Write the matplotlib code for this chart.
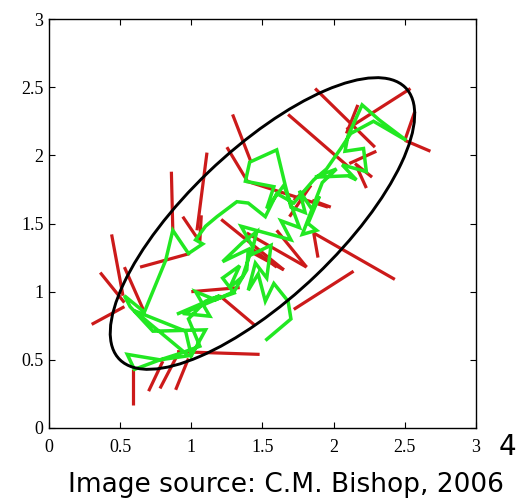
import matplotlib
matplotlib.use('Agg')
import matplotlib.pyplot as plt
from matplotlib.patches import Ellipse

# accepted steps (green path)
green_x = [1.53, 1.70, 1.68, 1.58, 1.52, 1.47, 1.40, 1.45, 1.53, 1.56, 1.42, 1.46, 1.36, 1.22, 1.40, 1.39,
           1.30, 1.17, 1.03, 1.13, 0.94, 1.19, 1.30, 1.22, 1.34, 1.27, 1.36,
           1.43, 1.35, 1.70, 1.63, 1.76, 1.65, 1.53, 1.58, 1.38, 1.41, 1.60, 1.66, 1.70, 1.80, 1.76, 1.85,
           1.90, 1.82, 1.88, 1.78,
           1.92, 2.02, 1.87, 2.10, 2.16, 2.06, 2.23, 2.21, 2.08, 2.10, 2.20, 2.32, 2.51, 2.28, 2.12, 2.05,
           1.95, 1.86,
           1.72, 1.60, 1.52, 1.40, 1.32, 1.18, 1.10, 1.03, 1.08, 0.98, 0.87, 0.82, 0.67, 0.53, 0.57,
           0.73, 1.10, 1.00, 0.96, 0.60, 0.98, 0.78, 0.55, 0.60, 0.78, 0.93, 1.06, 0.98, 1.10, 1.20, 0.91]
green_y = [0.65, 0.80, 0.93, 1.06, 0.93, 1.13, 1.01, 1.21, 1.10, 1.34, 1.27, 1.44, 1.36, 1.22, 1.31, 1.16,
           1.00, 0.94, 1.00, 0.82, 0.84, 0.95, 0.99, 1.10, 1.19, 1.03, 1.11,
           1.33, 1.48, 1.38, 1.52, 1.47, 1.78, 1.61, 1.77, 1.81, 1.95, 2.04, 1.78, 1.62, 1.58, 1.74, 1.60,
           1.70, 1.50, 1.45, 1.42,
           1.80, 1.90, 1.84, 1.85, 1.82, 1.93, 1.88, 2.05, 2.03, 2.14, 2.37, 2.26, 2.11, 2.25, 2.16, 2.05,
           1.90, 1.82,
           1.65, 1.72, 1.55, 1.65, 1.66, 1.55, 1.48, 1.38, 1.35, 1.28, 1.45, 1.23, 0.85, 0.97, 0.89,
           0.71, 0.72, 0.53, 0.71, 0.86, 0.53, 0.50, 0.54, 0.43, 0.50, 0.55, 0.60, 0.80, 0.93, 0.97, 0.84]

# rejected steps (red), start and end of each
red_x0 = [0.30, 0.36, 0.44, 0.53, 0.64, 0.86, 1.11, 0.94, 1.07, 1.25, 1.29, 1.39, 1.21, 1.39, 1.42,
          1.68, 1.87, 2.09, 2.57, 2.50, 2.09, 2.11, 2.15, 2.16, 1.84, 1.85, 1.86, 1.86, 1.72, 1.20,
          1.00, 0.90, 0.59, 0.70, 0.78, 0.89, 1.60, 1.72, 1.44]
red_y0 = [0.76, 1.14, 1.42, 1.18, 1.18, 1.88, 2.02, 1.55, 1.56, 2.06, 2.30, 1.81, 1.53, 1.43, 1.32,
          2.30, 2.49, 2.19, 2.32, 2.11, 2.16, 1.94, 1.94, 1.92, 1.78, 1.67, 1.43, 1.43, 0.87, 0.97,
          1.00, 0.56, 0.43, 0.27, 0.29, 0.28, 1.45, 1.67, 1.28]
red_x1 = [0.53, 0.53, 0.52, 0.67, 0.99, 0.87, 1.04, 1.05, 1.06, 1.40, 1.42, 1.96, 1.65, 1.81, 1.60,
          2.10, 2.29, 2.54, 2.50, 2.68, 2.17, 2.30, 2.27, 2.23, 1.69, 1.98, 2.43, 1.89, 2.14, 1.45,
          1.34, 1.48, 0.59, 0.80, 0.90, 0.98, 1.81, 1.84, 1.65]
red_y1 = [0.89, 0.92, 0.97, 0.85, 1.28, 1.45, 1.45, 1.38, 1.37, 1.80, 1.95, 1.62, 1.16, 1.18, 1.18,
          1.92, 2.06, 2.49, 2.11, 2.03, 2.37, 2.03, 1.84, 1.76, 1.55, 1.62, 1.09, 1.25, 1.15, 0.75,
          1.03, 0.54, 0.17, 0.49, 0.53, 0.51, 1.18, 1.78, 1.16]

# one standard-deviation contour
center = (1.5, 1.5)
major, minor, angle = 2.83, 1.07, 45

ticks = [0, 0.5, 1, 1.5, 2, 2.5, 3]
tick_labels = ['0', '0.5', '1', '1.5', '2', '2.5', '3']

fig = plt.figure(figsize=(5.25, 4.99), dpi=100)
ax = fig.add_axes([0.0933, 0.1423, 0.8133, 0.8196])

for i in range(len(red_x0)):
    ax.plot([red_x0[i], red_x1[i]], [red_y0[i], red_y1[i]], color='#cc1a1a', lw=2.3,
            solid_capstyle='butt', zorder=2)
ax.plot(green_x, green_y, color='#22e822', lw=2.5, solid_joinstyle='miter', zorder=3)

ax.add_patch(Ellipse(center, major, minor, angle=angle, fill=False, color='black', lw=2.1, zorder=4))

ax.set_xlim(0, 3)
ax.set_ylim(0, 3)
ax.set_xticks(ticks)
ax.set_yticks(ticks)
ax.set_xticklabels(tick_labels, family='Liberation Serif', fontsize=13)
ax.set_yticklabels(tick_labels, family='Liberation Serif', fontsize=13)
ax.tick_params(direction='in', top=True, right=True, length=4, width=0.8)
ax.tick_params(axis='x', pad=8)
ax.tick_params(axis='y', pad=4)
for s in ax.spines.values():
    s.set_linewidth(1.0)

fig.text(507 / 525, 1 - 447 / 499, '4', fontsize=20, family='DejaVu Sans', ha='center', va='center')
fig.text(68 / 525, 0.014, 'Image source: C.M. Bishop, 2006', fontsize=19, family='DejaVu Sans',
         ha='left', va='baseline')

fig.savefig('out.png', dpi=100)
